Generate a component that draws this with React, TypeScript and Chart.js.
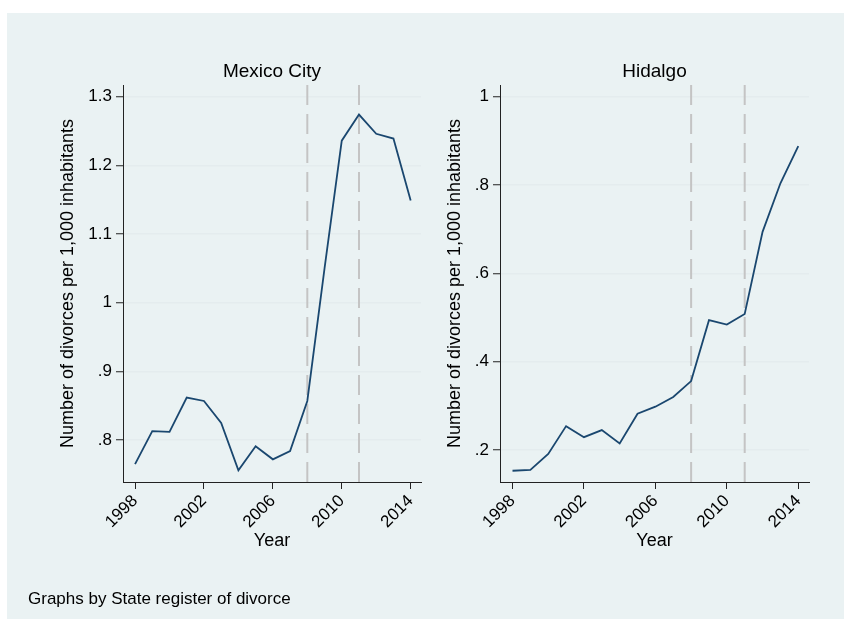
import React, { useEffect, useRef } from 'react';
import { Chart, registerables } from 'chart.js';

Chart.register(...registerables);

// ---------- data ----------
const years = [1998, 1999, 2000, 2001, 2002, 2003, 2004, 2005, 2006, 2007, 2008, 2009, 2010, 2011, 2012, 2013, 2014];
const mexicoCity = [0.765, 0.813, 0.812, 0.862, 0.857, 0.825, 0.756, 0.791, 0.772, 0.784, 0.857, 1.05, 1.236, 1.274, 1.246, 1.239, 1.149];
const hidalgo = [0.153, 0.155, 0.191, 0.254, 0.229, 0.245, 0.215, 0.282, 0.298, 0.32, 0.356, 0.494, 0.484, 0.508, 0.694, 0.804, 0.888];
const xTickYears = [1998, 2002, 2006, 2010, 2014];
const xTickLabels = ['1998', '2002', '2006', '2010', '2014'];
const eventYears = [2008, 2011];
const mexicoTicks = [0.8, 0.9, 1, 1.1, 1.2, 1.3];
const mexicoTickLabels = ['.8', '.9', '1', '1.1', '1.2', '1.3'];
const hidalgoTicks = [0.2, 0.4, 0.6, 0.8, 1];
const hidalgoTickLabels = ['.2', '.4', '.6', '.8', '1'];
const panelTitles = ['Mexico City', 'Hidalgo'];
const yTitle = 'Number of divorces per 1,000 inhabitants';
const xTitle = 'Year';
const noteText = 'Graphs by State register of divorce';

// ---------- styles ----------
const FONT = "'Liberation Sans', Arial, Helvetica, sans-serif";
const BG = '#eaf2f3';
const LINE = '#1a476f';
const GRID = '#e4ecee';
const AXIS = '#222222';
const DASH = '#c4c4c4';

const panelTextPlugin = {
  id: 'panelText',
  afterDraw(chart: any, _args: any, opts: any) {
    const { ctx, chartArea } = chart;
    ctx.save();
    ctx.fillStyle = '#000';
    ctx.font = `19px ${FONT}`;
    ctx.textAlign = 'center';
    ctx.textBaseline = 'middle';
    ctx.fillText(opts.title, (chartArea.left + chartArea.right) / 2, opts.titleY);
    if (opts.note) {
      ctx.font = `17px ${FONT}`;
      ctx.textAlign = 'left';
      ctx.fillText(opts.note, opts.noteX, opts.noteY);
    }
    ctx.restore();
  },
};

interface PanelCfg {
  title: string;
  values: number[];
  yMin: number;
  yMax: number;
  yTicks: number[];
  yTickLabels: string[];
  yWidth: number;
  yTitlePad: number;
  padding: { left: number; right: number; top: number; bottom: number };
  note?: string;
}

function makeConfig(p: PanelCfg): any {
  const datasets: any[] = [
    {
      data: years.map((y, i) => ({ x: y, y: p.values[i] })),
      borderColor: LINE,
      borderWidth: 1.8,
      pointRadius: 0,
      tension: 0,
      fill: false,
    },
  ];
  eventYears.forEach((ey) => {
    datasets.push({
      data: [
        { x: ey, y: p.yMin },
        { x: ey, y: p.yMax },
      ],
      borderColor: DASH,
      borderWidth: 2,
      borderDash: [20, 9],
      pointRadius: 0,
      fill: false,
    });
  });
  return {
    type: 'line',
    data: { datasets },
    plugins: [panelTextPlugin],
    options: {
      animation: false,
      responsive: false,
      devicePixelRatio: 1,
      events: [],
      layout: { padding: p.padding },
      plugins: {
        legend: { display: false },
        tooltip: { enabled: false },
        title: { display: false },
        panelText: { title: p.title, titleY: 59, note: p.note, noteX: 21, noteY: 586 },
      },
      scales: {
        x: {
          type: 'linear',
          min: 1997.3,
          max: 2014.6,
          afterBuildTicks: (scale: any) => {
            scale.ticks = xTickYears.map((v) => ({ value: v }));
          },
          afterFit: (scale: any) => {
            scale.height = 80;
          },
          ticks: {
            autoSkip: false,
            minRotation: 45,
            maxRotation: 45,
            padding: 2,
            color: '#000',
            font: { family: FONT, size: 17 },
            callback: (_v: any, i: number) => xTickLabels[i],
          },
          grid: {
            display: true,
            drawOnChartArea: false,
            drawTicks: true,
            tickLength: 7,
            tickColor: AXIS,
            tickWidth: 1,
          },
          border: { display: true, color: AXIS, width: 1 },
          title: {
            display: true,
            text: xTitle,
            color: '#000',
            font: { family: FONT, size: 18 },
            padding: { top: 0, bottom: 10 },
          },
        },
        y: {
          type: 'linear',
          min: p.yMin,
          max: p.yMax,
          afterBuildTicks: (scale: any) => {
            scale.ticks = p.yTicks.map((v) => ({ value: v }));
          },
          afterFit: (scale: any) => {
            scale.width = p.yWidth;
          },
          ticks: {
            autoSkip: false,
            padding: 4,
            color: '#000',
            font: { family: FONT, size: 17 },
            callback: (_v: any, i: number) => p.yTickLabels[i],
          },
          grid: {
            display: true,
            drawOnChartArea: true,
            drawTicks: true,
            tickLength: 7,
            color: GRID,
            lineWidth: 1.5,
            tickColor: AXIS,
            tickWidth: 1,
          },
          border: { display: true, color: AXIS, width: 1 },
          title: {
            display: true,
            text: yTitle,
            color: '#000',
            font: { family: FONT, size: 18 },
            padding: { top: p.yTitlePad, bottom: 0 },
          },
        },
      },
    },
  };
}

export default function App() {
  const leftRef = useRef<HTMLCanvasElement | null>(null);
  const rightRef = useRef<HTMLCanvasElement | null>(null);

  useEffect(() => {
    const charts: Chart[] = [];
    if (leftRef.current) {
      charts.push(
        new Chart(
          leftRef.current,
          makeConfig({
            title: panelTitles[0],
            values: mexicoCity,
            yMin: 0.739,
            yMax: 1.317,
            yTicks: mexicoTicks,
            yTickLabels: mexicoTickLabels,
            yWidth: 116,
            yTitlePad: 50,
            padding: { left: 0, right: 9, top: 72, bottom: 57 },
            note: noteText,
          })
        )
      );
    }
    if (rightRef.current) {
      charts.push(
        new Chart(
          rightRef.current,
          makeConfig({
            title: panelTitles[1],
            values: hidalgo,
            yMin: 0.1275,
            yMax: 1.0265,
            yTicks: hidalgoTicks,
            yTickLabels: hidalgoTickLabels,
            yWidth: 70,
            yTitlePad: 14,
            padding: { left: 0, right: 35, top: 72, bottom: 57 },
          })
        )
      );
    }
    return () => charts.forEach((c) => c.destroy());
  }, []);

  return (
    <div
      style={{
        position: 'fixed',
        left: 7,
        top: 13,
        right: 0,
        bottom: 0,
        background: BG,
        overflow: 'hidden',
      }}
    >
      <canvas
        ref={leftRef}
        width={423}
        height={606}
        style={{ position: 'absolute', left: 0, top: 0, width: 423, height: 606 }}
      />
      <canvas
        ref={rightRef}
        width={414}
        height={606}
        style={{ position: 'absolute', left: 423, top: 0, width: 414, height: 606 }}
      />
    </div>
  );
}
